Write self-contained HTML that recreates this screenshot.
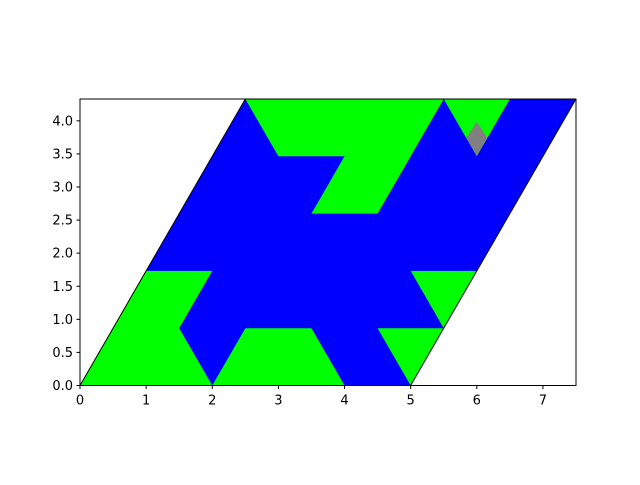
<!DOCTYPE html>
<html><head><meta charset="utf-8"><style>
body{margin:0;background:#fff}
svg text{font-family:"DejaVu Sans","Liberation Sans",sans-serif;font-size:13px;fill:#000}
</style></head><body>
<svg id="chart" width="640" height="480" xmlns="http://www.w3.org/2000/svg">
<g id="plot"></g>
<g id="axes"></g>
</svg>
<script>
const H = Math.sqrt(3)/2;
const domainShape = [[0,0],[5,0],[7.5,5*H],[2.5,5*H]];
const greenRegions = [
  [[0,0],[2,0],[1.5,H],[2,2*H],[1,2*H]],
  [[2,0],[4,0],[3.5,H],[2.5,H]],
  [[4.5,H],[5.5,H],[5,0]],
  [[5,2*H],[6,2*H],[5.5,H]],
  [[2.5,5*H],[5.5,5*H],[4.5,3*H],[3.5,3*H],[4,4*H],[3,4*H]],
  [[5.5,5*H],[6.5,5*H],[6,4*H]]
];
const grayRegion = [[6,3.985],[6.16,3.74],[6,3.47],[5.84,3.74]];
const xTicks = [0,1,2,3,4,5,6,7];
const yTicks = [0,0.5,1,1.5,2,2.5,3,3.5,4];
const xMax = 7.5, yMax = 5*H;

const X0=80, X1=576, Y0=385.5, Y1=99;
const sx = v => X0 + v/xMax*(X1-X0);
const sy = v => Y0 - v/yMax*(Y0-Y1);
const NS="http://www.w3.org/2000/svg";
const plot=document.getElementById('plot'), axes=document.getElementById('axes');
function pts(p){return p.map(q=>sx(q[0])+','+sy(q[1])).join(' ');}
function poly(p,fill,name,parent){
  const e=document.createElementNS(NS,'polygon');
  e.setAttribute('points',pts(p));e.setAttribute('fill',fill);
  
  
  parent.appendChild(e);return e;
}
poly(domainShape,'#0000ff','blue-region',plot);
greenRegions.forEach((g,i)=>poly(g,'#00ff00','green-region-'+i,plot));
poly(grayRegion,'#808080','gray-region',plot);
const edges=[[domainShape[0],domainShape[3]],[domainShape[1],domainShape[2]]];
edges.forEach((ed,i)=>{
  const l=document.createElementNS(NS,'line');
  l.setAttribute('x1',sx(ed[0][0]));l.setAttribute('y1',sy(ed[0][1]));
  l.setAttribute('x2',sx(ed[1][0]));l.setAttribute('y2',sy(ed[1][1]));
  l.setAttribute('stroke','#000');l.setAttribute('stroke-width','1');
  
  
  plot.appendChild(l);
});
const frame=document.createElementNS(NS,'rect');
frame.setAttribute('x',X0);frame.setAttribute('y',Y1);frame.setAttribute('width',X1-X0);frame.setAttribute('height',Y0-Y1);
frame.setAttribute('fill','none');frame.setAttribute('stroke','#000');frame.setAttribute('stroke-width','1');


axes.appendChild(frame);
xTicks.forEach(v=>{
  const x=sx(v);
  const t=document.createElementNS(NS,'line');
  t.setAttribute('x1',x);t.setAttribute('x2',x);t.setAttribute('y1',Y0);t.setAttribute('y2',Y0+3.5);t.setAttribute('stroke','#000');
  
  
  axes.appendChild(t);
  const s=document.createElementNS(NS,'text');
  s.setAttribute('x',x);s.setAttribute('y',Y0+19);s.setAttribute('text-anchor','middle');s.textContent=v;
  
  
  axes.appendChild(s);
});
yTicks.forEach(v=>{
  const y=sy(v);
  const t=document.createElementNS(NS,'line');
  t.setAttribute('x1',X0-3.5);t.setAttribute('x2',X0);t.setAttribute('y1',y);t.setAttribute('y2',y);t.setAttribute('stroke','#000');
  
  
  axes.appendChild(t);
  const s=document.createElementNS(NS,'text');
  s.setAttribute('x',X0-7);s.setAttribute('y',y+4.5);s.setAttribute('text-anchor','end');s.textContent=v.toFixed(1);
  
  
  axes.appendChild(s);
});
</script>
</body></html>
